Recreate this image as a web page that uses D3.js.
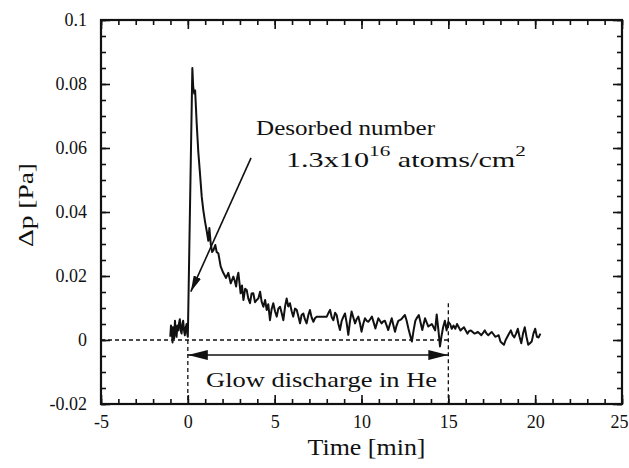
<!DOCTYPE html>
<html>
<head>
<meta charset="utf-8">
<script src="https://cdn.jsdelivr.net/npm/d3@7"></script>
<style>
  body { margin: 0; background: #fff; }
  svg text { font-family: "Liberation Serif", "Times New Roman", "DejaVu Serif", serif !important; fill: #111; }
</style>
</head>
<body>
<div id="chart"></div>
<script>
// 1: DATA
const xMajorTicks = [-5, 0, 5, 10, 15, 20, 25];
const yMajorTicks = [-0.02, 0, 0.02, 0.04, 0.06, 0.08, 0.1];

// time [min]
const timeMin = [
  -1.01, -0.97, -0.93, -0.88, -0.84, -0.79, -0.74, -0.69, -0.65, -0.6, -0.55, -0.5, -0.46, -0.41,
  -0.36, -0.31, -0.27, -0.22, -0.17, -0.12, -0.07, -0.03, 0.0,
  0.26, 0.31, 0.37, 0.42, 0.51, 0.6, 0.7, 0.8, 0.89, 0.99, 1.09, 1.18, 1.24, 1.32, 1.4, 1.47,
  1.58, 1.66, 1.76, 1.89, 2.04, 2.2, 2.33, 2.47, 2.62, 2.7, 2.78, 2.84, 2.91, 3.04, 3.12, 3.2,
  3.3, 3.39, 3.48, 3.58, 3.67, 3.77, 3.87, 3.97, 4.06, 4.16, 4.25, 4.35, 4.45, 4.54, 4.63, 4.73,
  4.82, 4.92, 5.02, 5.12, 5.21, 5.31, 5.4, 5.5, 5.6, 5.69, 5.78, 5.88, 5.98, 6.07, 6.17, 6.27,
  6.36, 6.46, 6.55, 6.65, 6.74, 6.84, 6.94, 7.03, 7.13, 7.23, 7.32, 7.42, 7.6, 8.0, 8.1, 8.19,
  8.29, 8.38, 8.48, 8.57, 8.67, 8.76, 8.86, 8.96, 9.05, 9.15, 9.24, 9.34, 9.43, 9.53, 9.63, 9.72,
  9.82, 9.92, 10.0, 10.1, 10.2, 10.3, 10.4, 10.5, 10.6, 10.7, 10.8, 10.9, 10.97, 11.06, 11.16,
  11.25, 11.35, 11.45, 11.54, 11.64, 11.74, 11.84, 11.93, 12.02, 12.12, 12.2, 12.3, 12.4, 12.5,
  12.6, 12.7, 12.8, 12.9, 13.0, 13.1, 13.2, 13.3, 13.4, 13.5, 13.58, 13.66, 13.75, 13.85, 13.95,
  14.05, 14.15, 14.24, 14.33, 14.43, 14.52, 14.6, 14.7, 14.8, 14.9, 15.0, 15.1, 15.2, 15.3, 15.4,
  15.5, 15.6, 15.7, 15.8, 15.9, 16.0, 16.1, 16.2, 16.3, 16.4, 16.5, 16.6, 16.7, 16.8, 16.9, 17.0,
  17.1, 17.2, 17.3, 17.4, 17.5, 17.6, 17.7, 17.8, 17.9, 18.0, 18.1, 18.2, 18.3, 18.4, 18.5, 18.6,
  18.7, 18.8, 18.9, 19.0, 19.1, 19.2, 19.3, 19.4, 19.5, 19.6, 19.7, 19.8, 19.9, 20.0, 20.1, 20.2, 20.3
];

// pressure rise [Pa]
const deltaP = [
  0.001, 0.0045, 0.0037, -0.0008, 0.004, 0.0005, 0.006, 0.0025, 0.001, 0.0045, 0.003, 0.0055, 0.0065, 0.003,
  0.002, 0.005, 0.006, 0.003, 0.0015, 0.004, 0.005, 0.002, 0.001,
  0.085, 0.079, 0.077, 0.078, 0.0677, 0.059, 0.052, 0.0448, 0.0406, 0.037, 0.034, 0.031, 0.035, 0.030, 0.0275, 0.028,
  0.0297, 0.0275, 0.027, 0.023, 0.021, 0.0194, 0.021, 0.0177, 0.0198, 0.0185, 0.0167, 0.0195, 0.021, 0.0146, 0.017, 0.0125,
  0.016, 0.0156, 0.013, 0.0115, 0.0145, 0.0146, 0.0118, 0.0125, 0.013, 0.0151, 0.012, 0.0104, 0.0125, 0.0094, 0.0112, 0.0062,
  0.0095, 0.0115, 0.009, 0.0073, 0.0098, 0.0104, 0.0085, 0.0062, 0.0105, 0.013, 0.0105, 0.0115, 0.009, 0.0073, 0.0098, 0.0094,
  0.0075, 0.0052, 0.0078, 0.0083, 0.0065, 0.0052, 0.0078, 0.0094, 0.007, 0.0057, 0.0068, 0.0073, 0.0073, 0.0073, 0.0085, 0.0094,
  0.007, 0.0062, 0.0085, 0.0078, 0.005, 0.0031, 0.006, 0.0073, 0.0083, 0.0052, 0.0016, 0.006, 0.0089, 0.007, 0.0052, 0.0065,
  0.0073, 0.005, 0.0026, 0.005, 0.0068, 0.006, 0.0057, 0.0065, 0.0073, 0.0055, 0.0036, 0.0055, 0.0068, 0.006, 0.0052,
  0.0058, 0.006, 0.0045, 0.0031, 0.005, 0.0068, 0.0045, 0.0026, 0.0045, 0.006, 0.0062, 0.0065, 0.0072, 0.0078,
  0.006, 0.0036, 0.0015, -0.0005, 0.003, 0.006, 0.007, 0.0078, 0.0055, 0.0031, 0.005, 0.0068, 0.0055, 0.0042, 0.0046,
  0.005, 0.004, 0.003, 0.008, 0.003, -0.002, 0.001, 0.004, 0.006, 0.003, 0.0057, 0.005, 0.0035, 0.0045, 0.0035,
  0.005, 0.004, 0.003, 0.0035, 0.004, 0.003, 0.002, 0.0028, 0.003, 0.0025, 0.002, 0.0022, 0.0025, 0.002, 0.0015, 0.0022,
  0.003, 0.002, 0.0015, 0.002, 0.0025, 0.0018, 0.001, 0.0012, 0.0015, -0.0005, -0.001, -0.0015, 0.0, 0.001, 0.002, 0.003,
  0.0015, 0.0008, 0.002, 0.0035, 0.001, -0.001, 0.002, 0.004, 0.001, -0.0015, -0.001, -0.0005, 0.002, 0.0035, 0.001, 0.0008, 0.002
];

// 2: SET GLOBAL VARIABLES
const margin = { top: 20, right: 7, bottom: 64, left: 101 };
const width = 629 - margin.left - margin.right;
const height = 468 - margin.top - margin.bottom;

const svg = d3.select("#chart")
    .append("svg")
    .attr("width", width + margin.left + margin.right)
    .attr("height", height + margin.top + margin.bottom)
    .append("g")
    .attr("transform", `translate(${margin.left},${margin.top})`);

// arrow heads
const defs = svg.append("defs");
defs.append("marker")
    .attr("id", "headSmall")
    .attr("markerUnits", "userSpaceOnUse")
    .attr("viewBox", "0 0 16 8")
    .attr("refX", 16).attr("refY", 4)
    .attr("markerWidth", 16).attr("markerHeight", 8)
    .attr("orient", "auto-start-reverse")
    .append("path").attr("d", "M0,0 L16,4 L0,8 Z").attr("fill", "#111");
defs.append("marker")
    .attr("id", "headBig")
    .attr("markerUnits", "userSpaceOnUse")
    .attr("viewBox", "0 0 20 10")
    .attr("refX", 20).attr("refY", 5)
    .attr("markerWidth", 20).attr("markerHeight", 10)
    .attr("orient", "auto-start-reverse")
    .append("path").attr("d", "M0,0 L20,5 L0,10 Z").attr("fill", "#111");

// 3: SCALES
const xScale = d3.scaleLinear().domain([-5, 25]).range([0, width]);
const yScale = d3.scaleLinear().domain([-0.02, 0.1]).range([height, 0]);

// 4: AXES (ticks point inward on all four sides)
const fmt = d => d === 0 ? "0" : String(+d.toFixed(2));

const styleAxis = g => {
    g.select(".domain").remove();
    g.selectAll(".tick line").attr("stroke", "#111").attr("stroke-width", 1.6);
    g.selectAll("text").attr("font-size", "18px").attr("fill", "#111");
};

// bottom
svg.append("g").attr("transform", `translate(0,${height})`)
    .call(d3.axisBottom(xScale).tickValues(xMajorTicks).tickSizeInner(-9).tickSizeOuter(0)
        .tickPadding(11).tickFormat(d => String(d)))
    .call(styleAxis)
    .call(g => g.selectAll(".tick text").filter(d => d === 25).attr("dx", -3));
svg.append("g").attr("transform", `translate(0,${height})`)
    .call(d3.axisBottom(xScale).tickValues(d3.range(-5, 26, 1)).tickSizeInner(-5).tickSizeOuter(0).tickFormat(""))
    .call(styleAxis);
// top
svg.append("g")
    .call(d3.axisTop(xScale).tickValues(xMajorTicks).tickSizeInner(-9).tickSizeOuter(0).tickFormat(""))
    .call(styleAxis);
svg.append("g")
    .call(d3.axisTop(xScale).tickValues(d3.range(-5, 26, 1)).tickSizeInner(-5).tickSizeOuter(0).tickFormat(""))
    .call(styleAxis);
// left
svg.append("g")
    .call(d3.axisLeft(yScale).tickValues(yMajorTicks).tickSizeInner(-9).tickSizeOuter(0)
        .tickPadding(14).tickFormat(fmt))
    .call(styleAxis);
svg.append("g")
    .call(d3.axisLeft(yScale).tickValues(d3.range(-0.02, 0.1001, 0.005)).tickSizeInner(-5).tickSizeOuter(0).tickFormat(""))
    .call(styleAxis);
// right
svg.append("g").attr("transform", `translate(${width},0)`)
    .call(d3.axisRight(yScale).tickValues(yMajorTicks).tickSizeInner(-9).tickSizeOuter(0).tickFormat(""))
    .call(styleAxis);
svg.append("g").attr("transform", `translate(${width},0)`)
    .call(d3.axisRight(yScale).tickValues(d3.range(-0.02, 0.1001, 0.005)).tickSizeInner(-5).tickSizeOuter(0).tickFormat(""))
    .call(styleAxis);

// frame
svg.append("rect")
    .attr("width", width).attr("height", height)
    .attr("fill", "none").attr("stroke", "#111").attr("stroke-width", 2.2);

// 5: REFERENCE LINES
const dash = "4,3";
svg.append("line")
    .attr("x1", xScale(-5)).attr("x2", xScale(15))
    .attr("y1", yScale(0)).attr("y2", yScale(0))
    .attr("stroke", "#111").attr("stroke-width", 1.3).attr("stroke-dasharray", dash);
svg.append("line")
    .attr("x1", xScale(0)).attr("x2", xScale(0))
    .attr("y1", yScale(0)).attr("y2", height)
    .attr("stroke", "#111").attr("stroke-width", 1.3).attr("stroke-dasharray", dash);
svg.append("line")
    .attr("x1", xScale(15)).attr("x2", xScale(15))
    .attr("y1", yScale(0.0115)).attr("y2", height)
    .attr("stroke", "#111").attr("stroke-width", 1.3).attr("stroke-dasharray", dash);

// 6: DATA LINE
const line = d3.line()
    .x((d, i) => xScale(timeMin[i]))
    .y(d => yScale(d));

svg.append("path")
    .datum(deltaP)
    .attr("fill", "none")
    .attr("stroke", "#111")
    .attr("stroke-width", 2)
    .attr("stroke-linejoin", "round")
    .attr("d", line);

// 7: ANNOTATIONS
// double arrow for the discharge period
svg.append("line")
    .attr("x1", xScale(0)).attr("x2", xScale(15))
    .attr("y1", yScale(-0.0047)).attr("y2", yScale(-0.0047))
    .attr("stroke", "#111").attr("stroke-width", 1.6)
    .attr("marker-start", "url(#headBig)")
    .attr("marker-end", "url(#headBig)");

svg.append("text")
    .attr("x", xScale(1.05))
    .attr("y", yScale(-0.0147))
    .attr("font-size", "21px")
    .attr("textLength", 231)
    .attr("lengthAdjust", "spacingAndGlyphs")
    .text("Glow discharge in He");

// desorbed arrow
svg.append("line")
    .attr("x1", xScale(3.64)).attr("y1", yScale(0.0569))
    .attr("x2", xScale(0.17)).attr("y2", yScale(0.0151))
    .attr("stroke", "#111").attr("stroke-width", 1.6)
    .attr("marker-end", "url(#headSmall)");

svg.append("text")
    .attr("x", xScale(3.93))
    .attr("y", yScale(0.064))
    .attr("font-size", "20px")
    .attr("textLength", 179)
    .attr("lengthAdjust", "spacingAndGlyphs")
    .text("Desorbed number");

const amount = svg.append("g")
    .attr("transform", `translate(${xScale(5.65)},${yScale(0.054)})`);
const amountText = amount.append("text").attr("font-size", "20px");
amountText.append("tspan").text("1.3x10");
amountText.append("tspan").attr("dy", -11).attr("font-size", "14px").text("16");
amountText.append("tspan").attr("dy", 11).text(" atoms/cm");
amountText.append("tspan").attr("dy", -11).attr("font-size", "14px").text("2");
const amountW = amountText.node().getBBox().width;
amountText.attr("transform", `scale(${240 / amountW},1)`);

// 8: AXIS TITLES
svg.append("text")
    .attr("x", width / 2 + 5)
    .attr("y", height + 51)
    .attr("text-anchor", "middle")
    .attr("font-size", "23px")
    .attr("textLength", 118)
    .attr("lengthAdjust", "spacingAndGlyphs")
    .text("Time [min]");

svg.append("text")
    .attr("transform", "rotate(-90)")
    .attr("x", -(205 - margin.top))
    .attr("y", -margin.left + 33)
    .attr("text-anchor", "middle")
    .attr("font-size", "21px")
    .attr("textLength", 84)
    .attr("lengthAdjust", "spacingAndGlyphs")
    .text("Δp [Pa]");
</script>
</body>
</html>
